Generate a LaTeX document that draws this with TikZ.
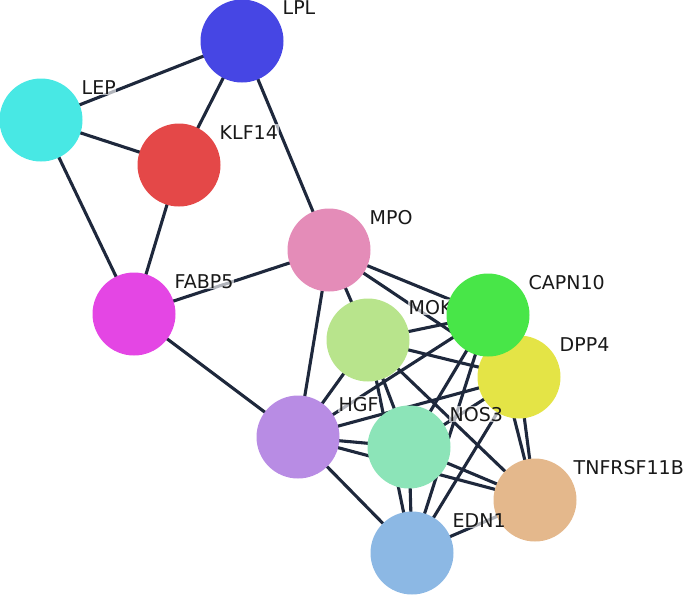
\documentclass[tikz,border=0pt]{standalone}
\usepackage{fontspec}
\setmainfont{DejaVu Sans}
\pgfdeclarelayer{edgelayer}
\pgfdeclarelayer{halolayer}
\pgfsetlayers{edgelayer,halolayer,main}
\definecolor{edgec}{RGB}{30,40,60}
\definecolor{cLPL}{RGB}{70,70,228}
\definecolor{cLEP}{RGB}{72,232,228}
\definecolor{cKLF}{RGB}{228,72,72}
\definecolor{cMPO}{RGB}{228,140,184}
\definecolor{cFAB}{RGB}{228,70,228}
\definecolor{cCAP}{RGB}{72,230,72}
\definecolor{cMOK}{RGB}{184,228,140}
\definecolor{cDPP}{RGB}{228,228,70}
\definecolor{cHGF}{RGB}{184,140,228}
\definecolor{cNOS}{RGB}{140,228,184}
\definecolor{cTNF}{RGB}{228,184,140}
\definecolor{cEDN}{RGB}{140,184,228}
\begin{document}
\begin{tikzpicture}[x=1pt,y=-1pt,
  gene/.style={circle,inner sep=0pt,minimum size=83pt,draw=none},
  lab/.style={font=\fontsize{19}{19}\selectfont,anchor=base west,inner sep=0.5pt,text=black!90},
  link/.style={draw=edgec,line width=3.1pt},
  halo/.style={fill=white,fill opacity=0.65}]
\useasboundingbox (0,0) rectangle (685,595);
% nodes and labels (drawing order matters)
\node[gene,fill=cLPL] (LPL) at (242,41) {};
\node[lab] (l-LPL) at (282,14) {LPL};
\node[gene,fill=cLEP] (LEP) at (41,120) {};
\node[lab] (l-LEP) at (81,94) {LEP};
\node[gene,fill=cKLF] (KLF14) at (179,165) {};
\node[lab] (l-KLF14) at (219,139) {KLF14};
\node[gene,fill=cMPO] (MPO) at (329,250) {};
\node[lab] (l-MPO) at (369,224) {MPO};
\node[gene,fill=cFAB] (FABP5) at (134,314) {};
\node[lab] (l-FABP5) at (174,288) {FABP5};
\node[gene,fill=cHGF] (HGF) at (298,437) {};
\node[lab] (l-HGF) at (338,411) {HGF};
\node[gene,fill=cMOK] (MOK) at (368,340) {};
\node[lab] (l-MOK) at (408,314) {MOK};
\node[gene,fill=cDPP] (DPP4) at (519,377) {};
\node[lab] (l-DPP4) at (559,351) {DPP4};
\node[gene,fill=cCAP] (CAPN10) at (488,315) {};
\node[lab] (l-CAPN10) at (528,289) {CAPN10};
\node[gene,fill=cTNF] (TNFRSF11B) at (535,500) {};
\node[lab] (l-TNFRSF11B) at (573,474) {TNFRSF11B};
\node[gene,fill=cNOS] (NOS3) at (409,447) {};
\node[lab] (l-NOS3) at (449,421) {NOS3};
\node[gene,fill=cEDN] (EDN1) at (412,553) {};
\node[lab] (l-EDN1) at (452,527) {EDN1};
% halos behind labels
\begin{pgfonlayer}{halolayer}
\foreach \n in {LPL,LEP,KLF14,MPO,FABP5,HGF,MOK,DPP4,CAPN10,TNFRSF11B,NOS3,EDN1}
  \fill[halo] (l-\n.south west) rectangle (l-\n.north east);
\end{pgfonlayer}
% edges
\begin{pgfonlayer}{edgelayer}
\foreach \a/\b in {LPL/LEP,LPL/KLF14,LPL/MPO,LEP/KLF14,LEP/FABP5,KLF14/FABP5,
  FABP5/MPO,FABP5/HGF,MPO/HGF,MPO/MOK,MPO/CAPN10,MPO/DPP4,
  MOK/CAPN10,MOK/DPP4,MOK/TNFRSF11B,MOK/HGF,MOK/NOS3,MOK/EDN1,
  HGF/NOS3,HGF/TNFRSF11B,HGF/EDN1,HGF/CAPN10,HGF/DPP4,
  NOS3/TNFRSF11B,NOS3/EDN1,NOS3/CAPN10,NOS3/DPP4,
  CAPN10/EDN1,CAPN10/TNFRSF11B,DPP4/TNFRSF11B,DPP4/EDN1,EDN1/TNFRSF11B}
  \draw[link] (\a.center) -- (\b.center);
\end{pgfonlayer}
\end{tikzpicture}
\end{document}
